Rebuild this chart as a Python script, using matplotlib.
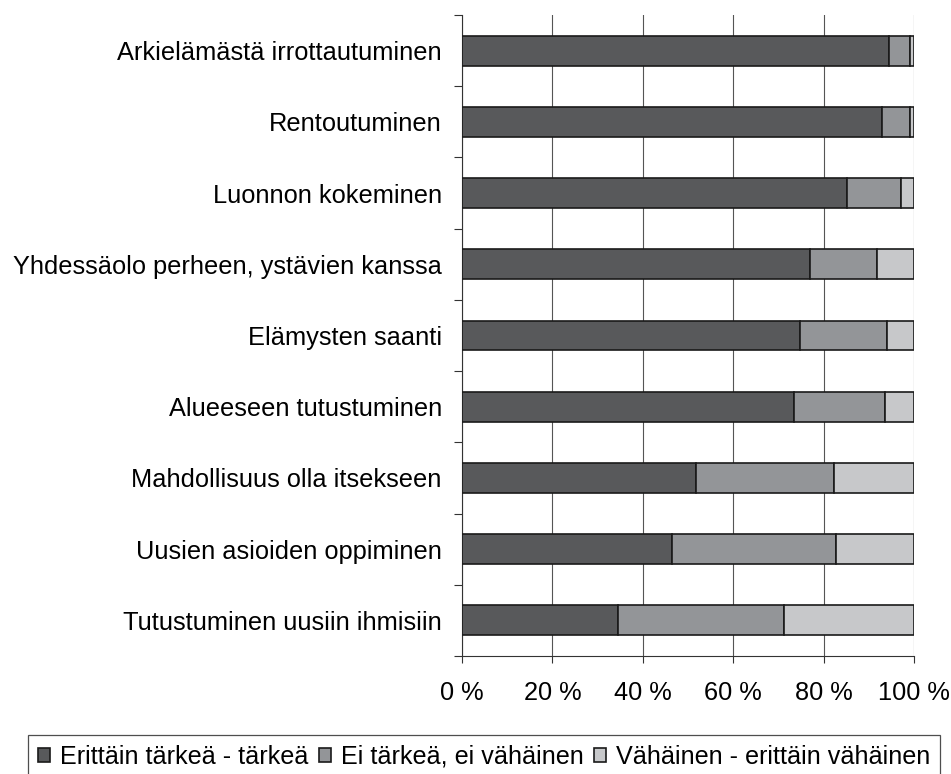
import matplotlib
matplotlib.use("Agg")
import matplotlib.pyplot as plt
import numpy as np
from matplotlib.ticker import FixedLocator, FuncFormatter

plt.rcParams['font.family'] = ['Liberation Sans', 'DejaVu Sans']

categories = [
    "Arkielämästä irrottautuminen",
    "Rentoutuminen",
    "Luonnon kokeminen",
    "Yhdessäolo perheen, ystävien kanssa",
    "Elämysten saanti",
    "Alueeseen tutustuminen",
    "Mahdollisuus olla itsekseen",
    "Uusien asioiden oppiminen",
    "Tutustuminen uusiin ihmisiin",
]
important = [94.5, 93.0, 85.2, 76.9, 74.8, 73.4, 51.7, 46.4, 34.5]
neutral = [4.7, 6.2, 11.9, 14.9, 19.2, 20.2, 30.5, 36.3, 36.7]
minor = [0.8, 0.8, 2.9, 8.2, 6.0, 6.4, 17.8, 17.3, 28.8]
series_names = ["Erittäin tärkeä - tärkeä", "Ei tärkeä, ei vähäinen",
                "Vähäinen - erittäin vähäinen"]
colors = ["#58595b", "#939598", "#c7c8ca"]
xticks = [0, 20, 40, 60, 80, 100]

FS = 18.3
LFS = 18.1

fig = plt.figure(figsize=(9.51, 7.74), dpi=100)
ax = fig.add_axes([462 / 951, 1 - 656 / 774, (914 - 462) / 951, (656 - 15) / 774])

y = np.arange(len(categories))
left = np.zeros(len(categories))
handles = []
for vals, name, c in zip([important, neutral, minor], series_names, colors):
    h = ax.barh(y, vals, left=left, height=0.42, color=c, edgecolor="#1a1a1a",
                linewidth=1.2, label=name, zorder=3)
    handles.append(h)
    left = left + np.array(vals)

ax.set_ylim(len(categories) - 0.5, -0.5)
ax.set_xlim(0, 100)
ax.set_yticks(y)
ax.set_yticklabels(categories, fontsize=FS)
ax.yaxis.set_minor_locator(FixedLocator(np.arange(-0.5, len(categories), 1.0)))
ax.tick_params(axis='y', which='major', length=0, pad=14.5)
ax.tick_params(axis='y', which='minor', length=6, width=0.8, color="#333333", direction='out')

ax.set_xticks(xticks)
ax.xaxis.set_major_formatter(FuncFormatter(lambda v, p: f"{int(v)} %"))
ax.tick_params(axis='x', length=5, width=0.8, color="#333333", labelsize=FS, pad=13)

ax.grid(axis='x', color="#555555", linewidth=0.8, zorder=0)
for s in ['top', 'right']:
    ax.spines[s].set_visible(False)
for s in ['left', 'bottom']:
    ax.spines[s].set_color("#333333")
    ax.spines[s].set_linewidth(0.8)

leg = fig.legend(handles=handles, labels=series_names, loc='upper center',
                 bbox_to_anchor=(484 / 951, 1 - 735 / 774), ncol=3,
                 fontsize=LFS, frameon=True, fancybox=False,
                 handlelength=0.47, handleheight=0.47, handletextpad=0.4,
                 columnspacing=0.42, borderpad=0.38, borderaxespad=0)
leg.get_frame().set_edgecolor("#222222")
leg.get_frame().set_linewidth(0.9)

fig.savefig("out.png", dpi=100)
